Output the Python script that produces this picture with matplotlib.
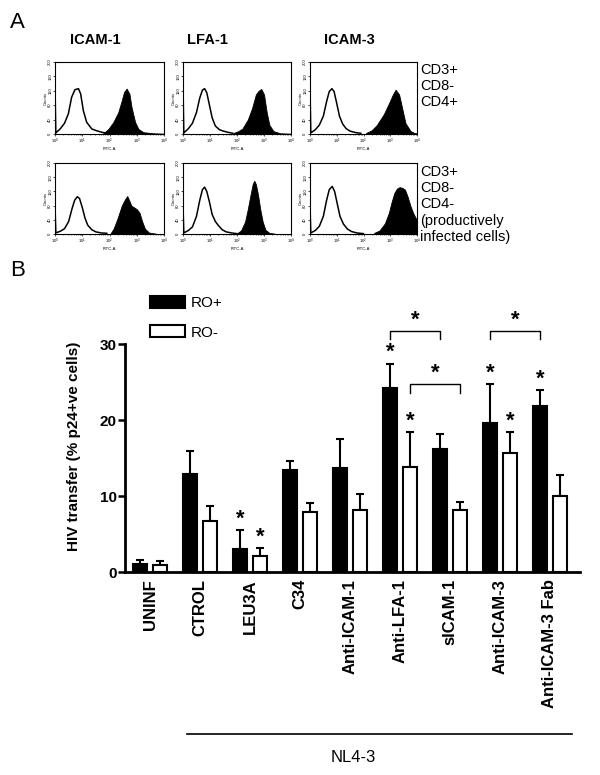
import numpy as np
import matplotlib.pyplot as plt
from matplotlib.lines import Line2D

plt.rcParams['font.family'] = ['Liberation Sans', 'DejaVu Sans']

# ---- panel A: flow histograms, x = log10(FITC-A), y = counts ----
markers = ['ICAM-1', 'LFA-1', 'ICAM-3']
row_labels = ['CD3+\nCD8-\nCD4+', 'CD3+\nCD8-\nCD4-\n(productively\ninfected cells)']

ctrl_cd4pos_icam1 = [(0.0, 130), (0.03, 3), (0.2, 15), (0.35, 30), (0.49, 56), (0.61, 102), (0.73, 123),
                     (0.86, 126), (0.94, 112), (1.04, 65), (1.16, 33), (1.35, 14), (1.53, 9), (1.71, 5), (1.9, 2)]
stain_cd4pos_icam1 = [(1.77, 2), (1.96, 14), (2.14, 33), (2.32, 60), (2.45, 93), (2.53, 116), (2.63, 126),
                      (2.73, 112), (2.81, 74), (2.94, 33), (3.06, 14), (3.24, 5), (3.61, 2), (4.0, 1)]
ctrl_cd4pos_lfa1 = [(0.0, 135), (0.03, 3), (0.2, 15), (0.35, 30), (0.5, 60), (0.62, 100), (0.72, 122),
                    (0.8, 126), (0.88, 115), (0.98, 80), (1.08, 45), (1.2, 22), (1.35, 12), (1.5, 8),
                    (1.65, 5), (1.85, 2)]
stain_cd4pos_lfa1 = [(1.88, 3), (2.05, 8), (2.2, 15), (2.4, 40), (2.55, 70), (2.7, 110), (2.8, 120),
                     (2.9, 125), (3.0, 110), (3.1, 60), (3.2, 25), (3.35, 8), (3.6, 2), (4.0, 1)]
ctrl_cd4pos_icam3 = [(0.0, 130), (0.03, 3), (0.2, 12), (0.35, 25), (0.5, 50), (0.62, 90), (0.72, 118),
                     (0.82, 126), (0.9, 118), (1.0, 85), (1.1, 50), (1.22, 28), (1.35, 15), (1.5, 8),
                     (1.7, 4), (1.9, 2)]
stain_cd4pos_icam3 = [(2.1, 3), (2.3, 10), (2.5, 25), (2.76, 55), (2.95, 85), (3.1, 110), (3.2, 123),
                      (3.33, 110), (3.45, 70), (3.57, 30), (3.76, 8), (3.9, 3), (4.0, 2)]

ctrl_cd4neg_icam1 = [(0.0, 80), (0.03, 3), (0.2, 8), (0.35, 15), (0.5, 35), (0.62, 70), (0.72, 95),
                     (0.82, 105), (0.9, 100), (1.0, 75), (1.1, 45), (1.2, 25), (1.35, 12), (1.5, 6),
                     (1.7, 3), (1.9, 2)]
stain_cd4neg_icam1 = [(2.05, 3), (2.15, 15), (2.3, 45), (2.45, 80), (2.55, 95), (2.65, 107), (2.72, 95),
                      (2.8, 80), (2.9, 75), (3.0, 70), (3.1, 60), (3.2, 35), (3.3, 15), (3.45, 4), (3.7, 1)]
ctrl_cd4neg_lfa1 = [(0.0, 80), (0.03, 3), (0.2, 10), (0.35, 20), (0.5, 50), (0.62, 95), (0.72, 125),
                    (0.8, 132), (0.88, 120), (0.98, 90), (1.08, 55), (1.2, 35), (1.3, 25), (1.45, 12),
                    (1.6, 6), (1.8, 3), (2.0, 1)]
stain_cd4neg_lfa1 = [(2.0, 2), (2.15, 10), (2.3, 35), (2.4, 70), (2.5, 110), (2.58, 140), (2.64, 150),
                     (2.7, 140), (2.78, 110), (2.86, 70), (2.95, 35), (3.05, 12), (3.2, 3), (3.4, 1)]
ctrl_cd4neg_icam3 = [(0.0, 80), (0.03, 3), (0.2, 10), (0.35, 22), (0.5, 50), (0.62, 95), (0.72, 125),
                     (0.83, 134), (0.92, 120), (1.02, 85), (1.12, 50), (1.25, 28), (1.4, 14), (1.55, 7),
                     (1.75, 3), (2.0, 1)]
stain_cd4neg_icam3 = [(2.4, 3), (2.6, 10), (2.8, 30), (2.95, 60), (3.05, 90), (3.15, 115), (3.25, 128),
                      (3.35, 132), (3.45, 130), (3.55, 125), (3.65, 105), (3.75, 80), (3.85, 60),
                      (3.95, 45), (4.0, 40)]

hist_ctrl = [[ctrl_cd4pos_icam1, ctrl_cd4pos_lfa1, ctrl_cd4pos_icam3],
             [ctrl_cd4neg_icam1, ctrl_cd4neg_lfa1, ctrl_cd4neg_icam3]]
hist_stain = [[stain_cd4pos_icam1, stain_cd4pos_lfa1, stain_cd4pos_icam3],
              [stain_cd4neg_icam1, stain_cd4neg_lfa1, stain_cd4neg_icam3]]

# ---- panel B: HIV transfer ----
conditions = ['UNINF', 'CTROL', 'LEU3A', 'C34', 'Anti-ICAM-1', 'Anti-LFA-1',
              'sICAM-1', 'Anti-ICAM-3', 'Anti-ICAM-3 Fab']
ro_pos = [1.0, 12.9, 3.0, 13.4, 13.7, 24.2, 16.2, 19.6, 21.8]
ro_pos_err = [0.6, 3.0, 2.5, 1.2, 3.8, 3.2, 2.0, 5.1, 2.1]
ro_neg = [0.9, 6.7, 2.1, 7.9, 8.2, 13.8, 8.2, 15.7, 10.0]
ro_neg_err = [0.5, 2.0, 1.0, 1.2, 2.0, 4.6, 1.0, 2.7, 2.7]
ro_pos_sig = [False, False, True, False, False, True, False, True, True]
ro_neg_sig = [False, False, True, False, False, True, False, True, False]
# (group a, group b, series, height)
brackets = [(5, 6, 'pos', 31.7), (5, 6, 'neg', 24.7), (7, 8, 'pos', 31.7)]

W, H = 600, 775
fig = plt.figure(figsize=(6, 7.75), dpi=100)


def fig_rect(x0, y0, x1, y1):
    return [x0 / W, 1 - y1 / H, (x1 - x0) / W, (y1 - y0) / H]


# panel A
col_x = [(55, 164), (183, 291), (310, 417)]
row_y = [(62, 134), (163, 234)]
for r, (ya, yb) in enumerate(row_y):
    for c, (xa, xb) in enumerate(col_x):
        hax = fig.add_axes(fig_rect(xa, ya, xb, yb))
        ctrl = np.array(hist_ctrl[r][c])
        stain = np.array(hist_stain[r][c])
        hax.fill_between(10 ** stain[:, 0], stain[:, 1], color='black', lw=0.6)
        hax.plot(10 ** ctrl[:, 0], ctrl[:, 1], color='black', lw=1.1)
        hax.set_xscale('log')
        hax.set_xlim(1, 1e4)
        hax.set_ylim(0, 200)
        hax.set_yticks([0, 40, 80, 120, 160, 200])
        hax.tick_params(labelsize=3, length=1.5, width=0.5, pad=0.5)
        hax.tick_params(which='minor', length=1, width=0.4)
        plt.setp(hax.get_yticklabels(), rotation=90, va='center')
        hax.set_ylabel('Counts', fontsize=3, labelpad=0.5)
        hax.set_xlabel('FITC-A', fontsize=3, labelpad=0.5)
        for s in hax.spines.values():
            s.set_linewidth(0.8)

title_x = [95, 207, 349]
for c in range(3):
    fig.text(title_x[c] / W, 1 - 40 / H, markers[c], ha='center', va='center',
             fontsize=10.5, fontweight='bold')
fig.text(420 / W, 1 - 63 / H, row_labels[0], ha='left', va='top', fontsize=10.5, linespacing=1.2)
fig.text(420 / W, 1 - 165 / H, row_labels[1], ha='left', va='top', fontsize=10.5, linespacing=1.2)
fig.text(10 / W, 1 - 23 / H, 'A', ha='left', va='center', fontsize=16)
fig.text(10 / W, 1 - 271 / H, 'B', ha='left', va='center', fontsize=16)

# panel B
ax = fig.add_axes(fig_rect(125, 344, 580, 572))
x = np.arange(len(conditions))
off, bw = 0.2, 0.27
bars_pos = ax.bar(x - off, ro_pos, bw, color='black', edgecolor='black', linewidth=1.5, label='RO+', zorder=3)
bars_neg = ax.bar(x + off, ro_neg, bw, color='white', edgecolor='black', linewidth=1.5, label='RO-', zorder=3)
zeros = np.zeros(len(x))
ax.errorbar(x - off, ro_pos, yerr=[zeros, ro_pos_err], fmt='none', ecolor='black',
            elinewidth=1.5, capsize=3, capthick=1.5, zorder=2)
ax.errorbar(x + off, ro_neg, yerr=[zeros, ro_neg_err], fmt='none', ecolor='black',
            elinewidth=1.5, capsize=3, capthick=1.5, zorder=2)

for i in range(len(x)):
    if ro_pos_sig[i]:
        ax.text(x[i] - off, ro_pos[i] + ro_pos_err[i] + 0.1, '*', ha='center', va='bottom',
                fontsize=16, fontweight='bold', clip_on=False)
    if ro_neg_sig[i]:
        ax.text(x[i] + off, ro_neg[i] + ro_neg_err[i] + 0.1, '*', ha='center', va='bottom',
                fontsize=16, fontweight='bold', clip_on=False)

for a, b, series, h in brackets:
    d = -off if series == 'pos' else off
    ax.plot([a + d, a + d, b + d, b + d], [h - 1.1, h, h, h - 1.1], color='black', lw=1.0, clip_on=False)
    ax.text((a + b) / 2 + d, h + 0.1, '*', ha='center', va='bottom', fontsize=16, fontweight='bold',
            clip_on=False)

ax.set_xlim(-0.5, 8.6)
ax.set_ylim(0, 30)
ax.set_yticks([0, 10, 20, 30])
ax.set_xticks(x)
ax.set_xticklabels(conditions, rotation=90, fontsize=12, fontweight='bold')
for lab in ax.get_yticklabels():
    lab.set_fontweight('bold')
ax.tick_params(axis='y', labelsize=11, length=5, width=1.8, pad=1)
ax.tick_params(axis='x', length=0, pad=5)
for s in ['top', 'right']:
    ax.spines[s].set_visible(False)
for s in ['left', 'bottom']:
    ax.spines[s].set_linewidth(2)

fig.text(74 / W, 1 - 446 / H, 'HIV transfer (% p24+ve cells)', rotation=90, ha='center', va='center',
         fontsize=11, fontweight='bold')

ax.legend(handles=[bars_pos, bars_neg], labels=['RO+', 'RO-'], loc='upper left',
          bbox_to_anchor=(150 / W, 1 - 296 / H), bbox_transform=fig.transFigure,
          frameon=False, fontsize=11, handlelength=2.3, handleheight=0.8,
          handletextpad=0.35, labelspacing=1.0, borderpad=0, borderaxespad=0)

fig.add_artist(Line2D([187 / W, 572 / W], [1 - 734 / H, 1 - 734 / H], color='black', lw=1.2))
fig.text(353 / W, 1 - 757 / H, 'NL4-3', ha='center', va='center', fontsize=12)

fig.savefig('out.png', dpi=100)
